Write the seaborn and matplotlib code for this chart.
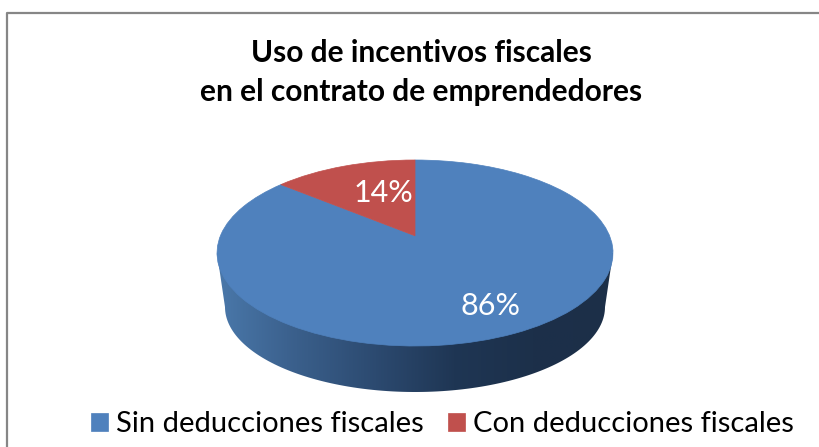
import numpy as np
import matplotlib
matplotlib.use("Agg")
import matplotlib.pyplot as plt
import seaborn as sns
from matplotlib.lines import Line2D
from matplotlib.patches import PathPatch
from matplotlib.path import Path
from matplotlib.transforms import Transform

# =====================================================
# DATA
# =====================================================
TITLE = "Uso de incentivos fiscales\nen el contrato de emprendedores"
labels = ["Sin deducciones fiscales", "Con deducciones fiscales"]
values = [86, 14]
colors = ["#4f81bd", "#c0504d"]

W, H = 819, 447
CX, CY = 415, 253      # centre of the top ellipse, pixels
RX, RY = 198, 93       # radii of the top ellipse, pixels
TILT = 0.185           # perspective shift of the apex


class Perspective(Transform):
    # maps the unit disc onto itself, moving the centre up
    input_dims = output_dims = 2
    is_affine = False

    def transform_non_affine(self, xy):
        xy = np.asarray(xy, dtype=float)
        x, y = xy[:, 0], xy[:, 1]
        d = 1 + TILT * y
        return np.column_stack([x * np.sqrt(1 - TILT ** 2) / d, (y + TILT) / d])


sns.set_theme(style="white")
plt.rcParams["font.family"] = ["Lato", "DejaVu Sans"]

fig = plt.figure(figsize=(W / 100, H / 100), dpi=100, facecolor="white")

# axes placed so data units are the ellipse radii
x0, x1 = -1.1, 1.1
y0, y1 = -1.7, 1.1
left = (CX + x0 * RX) / W
bottom = 1 - (CY - y0 * RY) / H
ax = fig.add_axes([left, bottom, (x1 - x0) * RX / W, (y1 - y0) * RY / H])

wedges, texts, pct = ax.pie(values, colors=colors, startangle=90, counterclock=False,
                            radius=1, autopct="%1.0f%%",
                            textprops={"color": "white", "fontsize": 22})
for w, c in zip(wedges, colors):
    w.set_transform(Perspective() + ax.transData)
    w.set_edgecolor(c)
    w.set_linewidth(0.5)
    w.set_zorder(3)

pct[0].set_position((0.38, -0.57))
pct[1].set_position((-0.16, 0.64))
for t in pct:
    t.set_ha("center")
    t.set_va("center")
    t.set_zorder(4)

# side wall of the pie, bottom ellipse is a bit smaller
t = np.linspace(np.pi, 2 * np.pi, 120)
wall_rx, wall_ry, wall_cy = 190 / RX, 85 / RY, -54 / RY
wall_x = np.r_[-1, wall_rx * np.cos(t), 1, -1]
wall_y = np.r_[0, wall_cy + wall_ry * np.sin(t), 0, 0]
wall = PathPatch(Path(np.column_stack([wall_x, wall_y])), transform=ax.transData,
                 facecolor="none", edgecolor="none")
ax.add_patch(wall)
shade = sns.blend_palette(["#4a78aa", "#3a5f8b", "#2c4a70", "#1f3654", "#1c304a", "#1c2f48"],
                          as_cmap=True)
img = ax.imshow(np.linspace(0, 1, 256)[None, :], extent=(-1, 1, -2, 0.2), aspect="auto",
                cmap=shade, zorder=1)
img.set_clip_path(wall)

ax.set_aspect("auto")
ax.set_xlim(x0, x1)
ax.set_ylim(y0, y1)
ax.axis("off")

# chart frame, runs off the right and bottom of the picture
fig.add_artist(Line2D([6.5 / W, 6.5 / W, 1.0], [0, 1 - 12.5 / H, 1 - 12.5 / H],
                      color="#868686", lw=1.6, transform=fig.transFigure))

fig.text(421 / W, 1 - 53 / H, TITLE.split("\n")[0], ha="center", va="center",
         fontsize=21.5, fontweight="bold", color="black")
fig.text(421 / W, 1 - 92 / H, TITLE.split("\n")[1], ha="center", va="center",
         fontsize=21.5, fontweight="bold", color="black")

fig.legend(wedges, labels, loc="center", bbox_to_anchor=(442.5 / W, 1 - 424 / H), ncol=2,
           frameon=False, fontsize=21, handlelength=0.59, handleheight=0.59,
           handletextpad=0.28, columnspacing=0.83, labelcolor="black")

fig.savefig("out.png", dpi=100)
plt.close(fig)
